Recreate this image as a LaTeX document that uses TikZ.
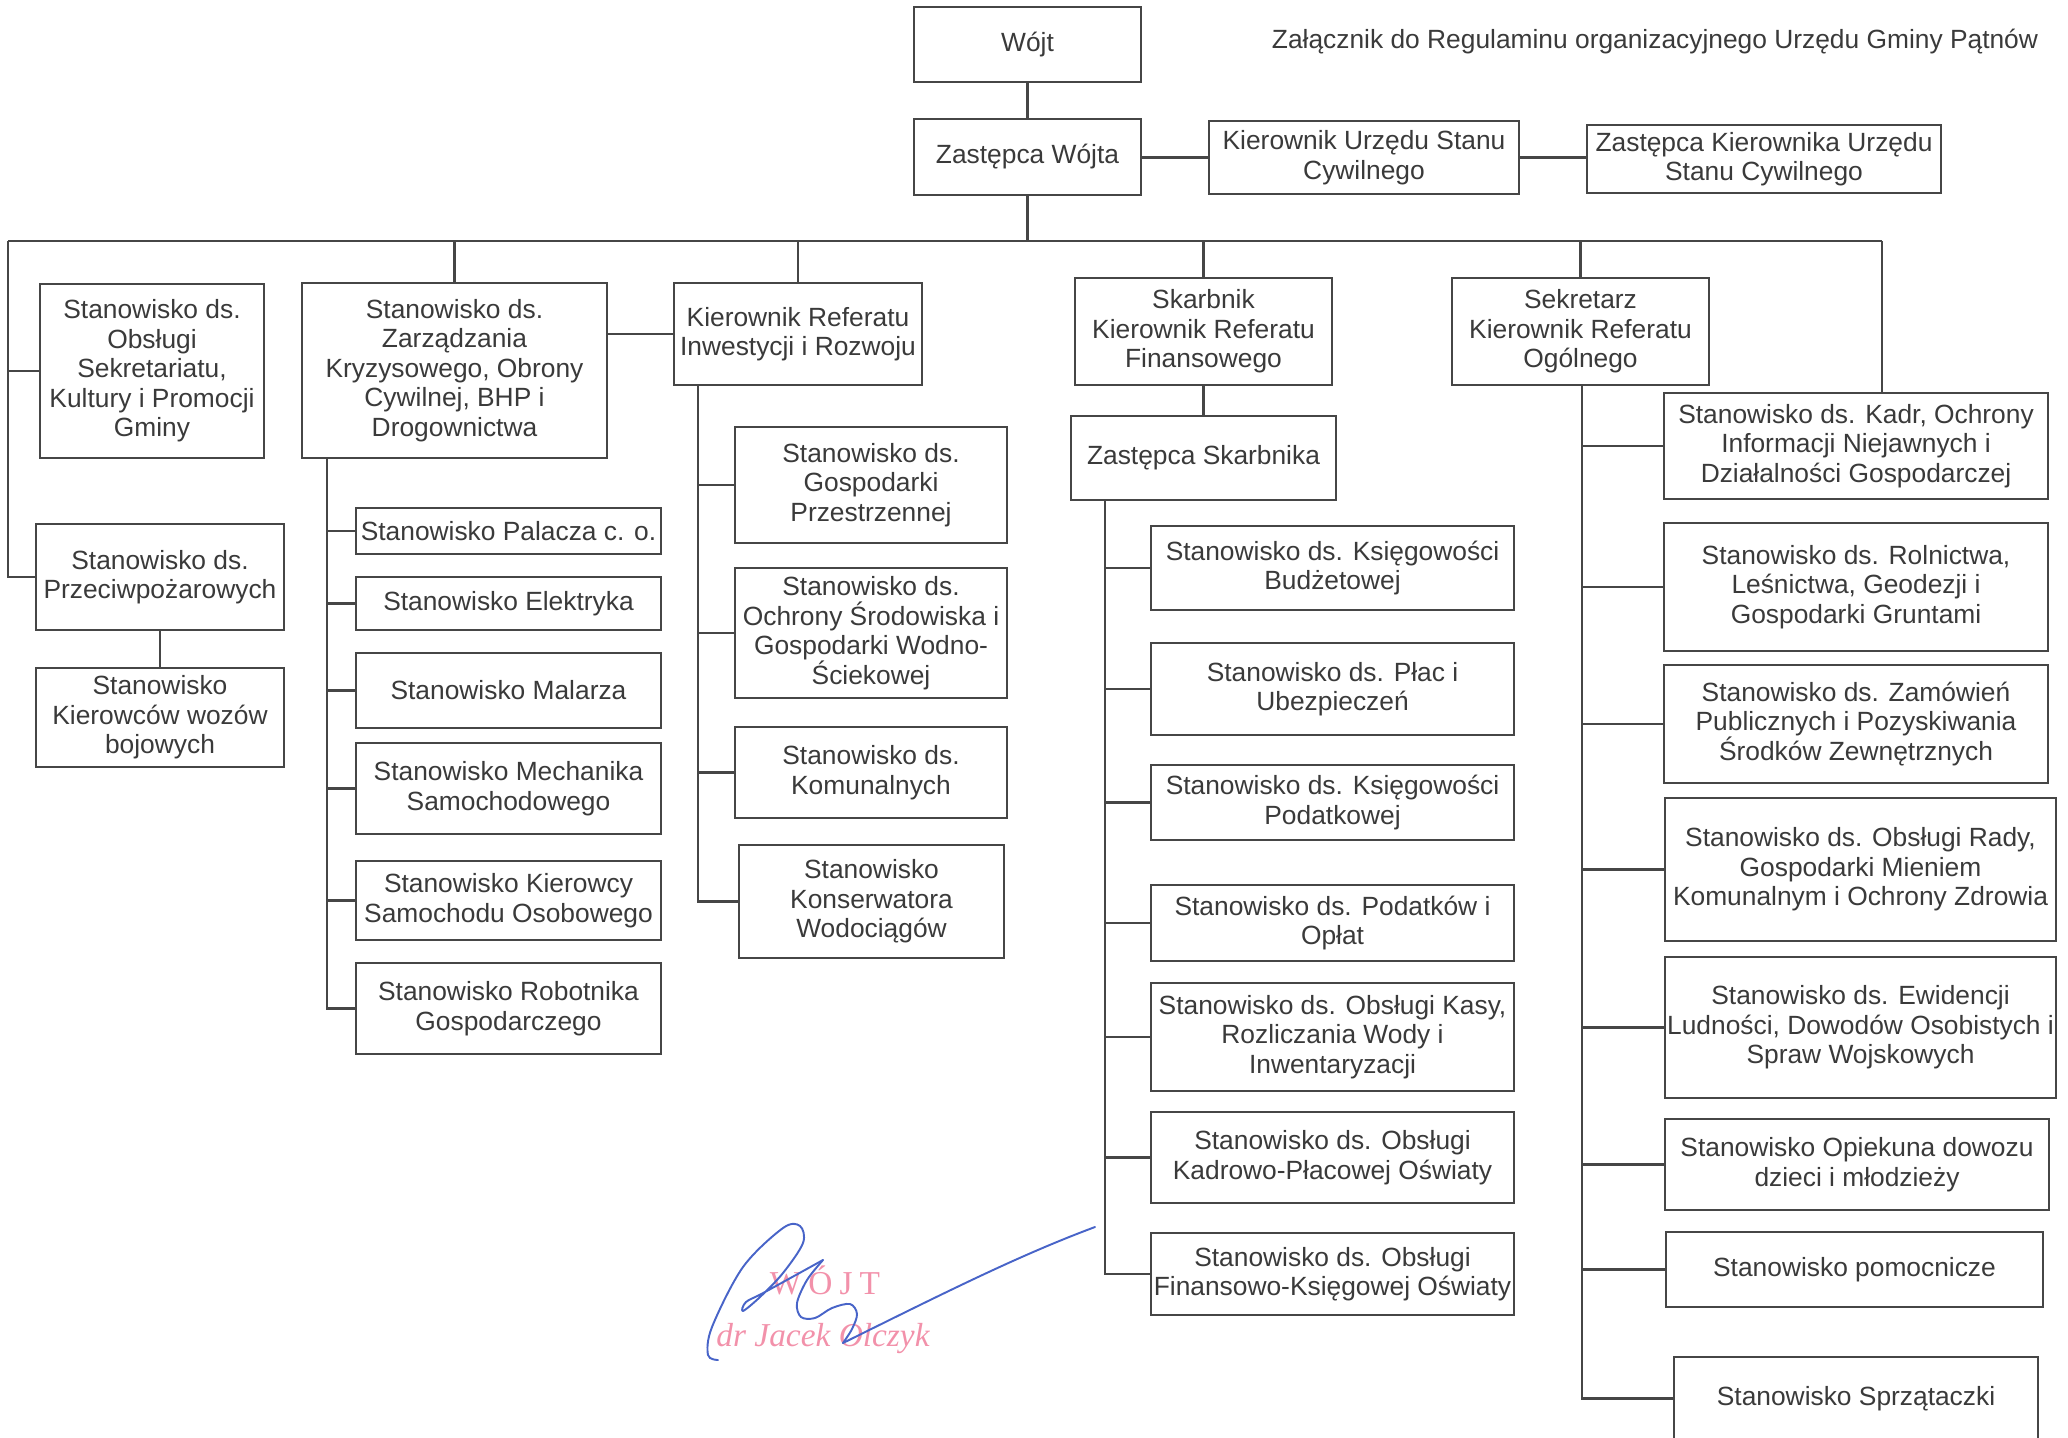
\documentclass[tikz,border=0pt]{standalone}
\usepackage{fontspec}
\setmainfont{Liberation Sans}
\newfontfamily\stampfont{Liberation Serif}
\usepackage{tikz}
\usetikzlibrary{calc}
\definecolor{linegray}{RGB}{70,70,70}
\definecolor{textgray}{RGB}{58,58,58}
\definecolor{sigblue}{RGB}{72,100,200}
\definecolor{stamppink}{RGB}{242,145,170}
\newcommand{\pxu}{0.02cm}

\begin{document}
\begin{tikzpicture}[x=\pxu, y=-\pxu, line width=1.3pt, color=linegray,
    box/.style={draw, fill=white, text=textgray, align=center, inner sep=0pt,
        font=\fontsize{15}{16.8}\selectfont},
    bx/.style 2 args={box, minimum width=#1*\pxu, minimum height=#2*\pxu},
    title/.style={text=textgray, font=\fontsize{15}{16.8}\selectfont},
    stamp/.style={text=stamppink, font=\stampfont\fontsize{19}{21}\selectfont},
    sig/.style={sigblue, line width=1.1pt, line cap=round, line join=round}]

    \useasboundingbox (0,0) rectangle (2068,1437);

    %Top of the chart
    \node[bx={227}{75}] (wojt) at (1027.5,44.5) {Wójt};
    \node[bx={227}{76}] (zw) at (1027.5,157) {Zastępca Wójta};
    \node[bx={310}{73}] (kusc) at (1364,157.5) {Kierownik Urzędu Stanu\\Cywilnego};
    \node[bx={354}{68}] (zkusc) at (1764,159) {Zastępca Kierownika Urzędu\\Stanu Cywilnego};
    \node[title] (tytul) at (1655,42) {Załącznik do Regulaminu organizacyjnego Urzędu Gminy Pątnów};

    %Left column
    \node[bx={224}{174}] (obs) at (152,371) {Stanowisko ds.\\Obsługi\\Sekretariatu,\\Kultury i Promocji\\Gminy};
    \node[bx={248}{106}] (ppoz) at (160,577) {Stanowisko ds.\\Przeciwpożarowych};
    \node[bx={248}{99}] (kwoz) at (160,717.5) {Stanowisko\\Kierowców wozów\\bojowych};

    %Zarzadzanie kryzysowe
    \node[bx={305}{175}] (kryz) at (454.5,370.5) {Stanowisko ds.\\Zarządzania\\Kryzysowego, Obrony\\Cywilnej, BHP i\\Drogownictwa};
    \node[bx={305}{46}] (b1) at (508.5,531) {Stanowisko Palacza c. o.};
    \node[bx={305}{53}] (b2) at (508.5,603.5) {Stanowisko Elektryka};
    \node[bx={305}{75}] (b3) at (508.5,690.5) {Stanowisko Malarza};
    \node[bx={305}{91}] (b4) at (508.5,788.5) {Stanowisko Mechanika\\Samochodowego};
    \node[bx={305}{79}] (b5) at (508.5,900.5) {Stanowisko Kierowcy\\Samochodu Osobowego};
    \node[bx={305}{91}] (b6) at (508.5,1008.5) {Stanowisko Robotnika\\Gospodarczego};

    %Referat Inwestycji
    \node[bx={248}{102}] (inw) at (798,334) {Kierownik Referatu\\Inwestycji i Rozwoju};
    \node[bx={272}{116}] (c1) at (871,485) {Stanowisko ds.\\Gospodarki\\Przestrzennej};
    \node[bx={272}{130}] (c2) at (871,633) {Stanowisko ds.\\Ochrony Środowiska i\\Gospodarki Wodno-\\Ściekowej};
    \node[bx={272}{91}] (c3) at (871,772.5) {Stanowisko ds.\\Komunalnych};
    \node[bx={265}{113}] (c4) at (871.5,901.5) {Stanowisko\\Konserwatora\\Wodociągów};

    %Referat Finansowy
    \node[bx={257}{107}] (skarb) at (1203.5,331.5) {Skarbnik\\Kierownik Referatu\\Finansowego};
    \node[bx={265}{84}] (zskarb) at (1203.5,458) {Zastępca Skarbnika};
    \node[bx={363}{84}] (d1) at (1332.5,568) {Stanowisko ds. Księgowości\\Budżetowej};
    \node[bx={363}{92}] (d2) at (1332.5,689) {Stanowisko ds. Płac i\\Ubezpieczeń};
    \node[bx={363}{75}] (d3) at (1332.5,802.5) {Stanowisko ds. Księgowości\\Podatkowej};
    \node[bx={363}{76}] (d4) at (1332.5,923) {Stanowisko ds. Podatków i\\Opłat};
    \node[bx={363}{108}] (d5) at (1332.5,1037) {Stanowisko ds. Obsługi Kasy,\\Rozliczania Wody i\\Inwentaryzacji};
    \node[bx={363}{91}] (d6) at (1332.5,1157.5) {Stanowisko ds. Obsługi\\Kadrowo-Płacowej Oświaty};
    \node[bx={363}{82}] (d7) at (1332.5,1274) {Stanowisko ds. Obsługi\\Finansowo-Księgowej Oświaty};

    %Referat Ogolny
    \node[bx={257}{107}] (sekr) at (1580.5,331.5) {Sekretarz\\Kierownik Referatu\\Ogólnego};
    \node[bx={384}{106}] (e1) at (1856,446) {Stanowisko ds. Kadr, Ochrony\\Informacji Niejawnych i\\Działalności Gospodarczej};
    \node[bx={384}{128}] (e2) at (1856,587) {Stanowisko ds. Rolnictwa,\\Leśnictwa, Geodezji i\\Gospodarki Gruntami};
    \node[bx={384}{118}] (e3) at (1856,724) {Stanowisko ds. Zamówień\\Publicznych i Pozyskiwania\\Środków Zewnętrznych};
    \node[bx={391}{143}] (e4) at (1860.5,869.5) {Stanowisko ds. Obsługi Rady,\\Gospodarki Mieniem\\Komunalnym i Ochrony Zdrowia};
    \node[bx={391}{141}] (e5) at (1860.5,1027.5) {Stanowisko ds. Ewidencji\\Ludności, Dowodów Osobistych i\\Spraw Wojskowych};
    \node[bx={384}{91}] (e6) at (1857,1164.5) {Stanowisko Opiekuna dowozu\\dzieci i młodzieży};
    \node[bx={377}{75}] (e7) at (1854.5,1269.5) {Stanowisko pomocnicze};
    \node[bx={364}{83}] (e8) at (1856,1398.5) {Stanowisko Sprzątaczki};

    %Bus and spines
    \coordinate (busL) at (8,241);
    \coordinate (busR) at (1882,241);
    \coordinate (spB) at (327,0);
    \coordinate (spC) at (698,0);
    \coordinate (spD) at (1105,0);
    \coordinate (spE) at (1582,0);

    %Top connectors
    \draw (wojt) -- (zw);
    \draw (zw.east |- kusc.west) -- (kusc.west);
    \draw (kusc.east) -- (kusc.east -| zkusc.west);
    \draw (zw.south) -- (zw.south |- busL);
    \draw (busL) -- (busR); %Main bus
    \draw (busR) -- (busR |- e1.north); %Right drop
    \foreach \n in {kryz,inw,skarb,sekr}
        \draw (\n.north) -- (\n.north |- busL);

    %Left column connectors
    \draw (busL) |- (ppoz.west);
    \draw (busL |- obs.west) -- (obs.west);
    \draw (ppoz) -- (kwoz);
    \draw (inw.west -| kryz.east) -- (inw.west);

    %Subordinate lists
    \draw (spB |- kryz.south) |- (b6.west);
    \foreach \n in {b1,b2,b3,b4,b5}
        \draw (spB |- \n.west) -- (\n.west);
    \draw (spC |- inw.south) |- (c4.west);
    \foreach \n in {c1,c2,c3}
        \draw (spC |- \n.west) -- (\n.west);
    \draw (skarb) -- (zskarb);
    \draw (spD |- zskarb.south) |- (d7.west);
    \foreach \n in {d1,d2,d3,d4,d5,d6}
        \draw (spD |- \n.west) -- (\n.west);
    \draw (spE |- sekr.south) |- (e8.west);
    \foreach \n in {e1,e2,e3,e4,e5,e6,e7}
        \draw (spE |- \n.west) -- (\n.west);

    %Stamp
    \node[stamp] (stwojt) at (825,1280) {W\hspace{4pt}Ó\hspace{4pt}J\hspace{4pt}T};
    \node[stamp, font=\stampfont\itshape\fontsize{19}{21}\selectfont] (stname) at (823,1338) {dr Jacek Olczyk};

    %Signature
    \draw[sig] plot[smooth, tension=0.55] coordinates {(718,1360) (708,1355) (712,1327) (743,1267) (783,1228) (800,1226) (803,1243) (783,1273) (760,1297) (743,1311) (746,1302) (765,1292) (823,1260)};
    \draw[sig] plot[smooth, tension=0.55] coordinates {(823,1260) (807,1280) (797,1303) (801,1317) (815,1318) (832,1308) (850,1304) (857,1314) (852,1329) (843,1343)};
    \draw[sig] (843,1343) .. controls (950,1290) and (1020,1255) .. (1095,1227);

\end{tikzpicture}
\end{document}
